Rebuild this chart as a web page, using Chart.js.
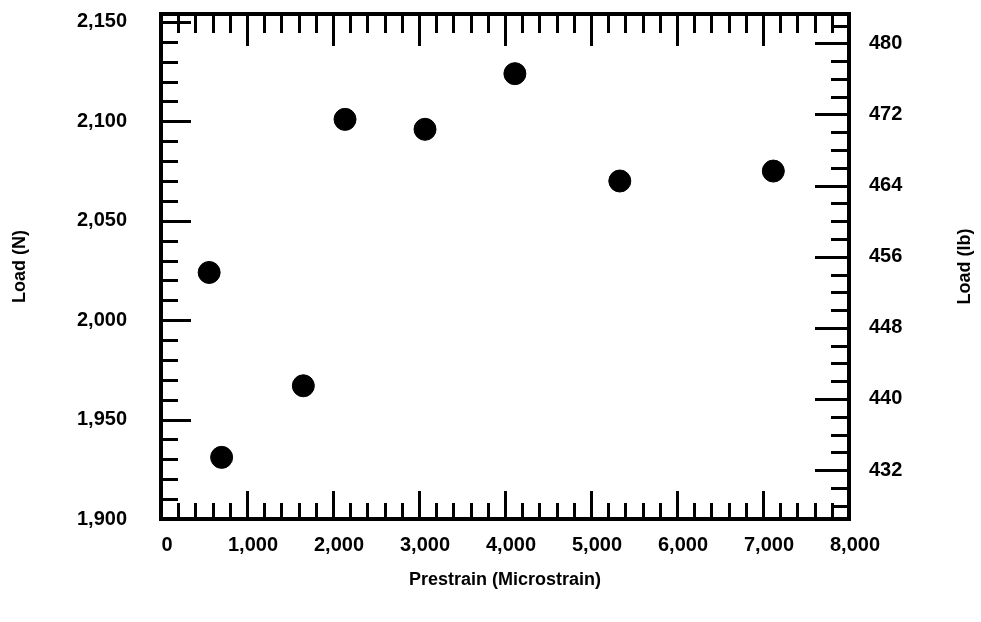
<!DOCTYPE html>
<html>
<head>
<meta charset="utf-8">
<script src="https://cdn.jsdelivr.net/npm/chart.js@4"></script>
<style>
  html, body { margin: 0; padding: 0; background: #fff; }
  #wrap { width: 981px; height: 622px; }
</style>
</head>
<body>
<div id="wrap"><canvas id="scatter" width="981" height="622"></canvas></div>
<script>
// readings
const prestrain = [560, 705, 1655, 2140, 3070, 4115, 5335, 7120];
const loadN = [2024, 1931, 1967, 2101, 2096, 2124, 2070, 2075];

const xTicks = [0, 1000, 2000, 3000, 4000, 5000, 6000, 7000, 8000];
const yTicksN = [1900, 1950, 2000, 2050, 2100, 2150];
const yTicksLb = [432, 440, 448, 456, 464, 472, 480];

// axis ranges as drawn (the lb scale in the source is not an exact conversion)
const nRange = [1900, 2154];
const lbRange = [426.5, 483.3];

const FONT = 'Liberation Sans, Arial, sans-serif';

// frame + inward tick marks (minor and major) on all four sides
const frameTicks = {
  id: 'frameTicks',
  afterDraw(chart) {
    const { ctx, chartArea: a, scales } = chart;
    const x = scales.x, y = scales.y, yr = scales.yr;
    ctx.save();
    ctx.strokeStyle = '#000';
    ctx.lineWidth = 3;
    ctx.beginPath();
    for (let v = 0; v <= 8000; v += 200) {
      const px = Math.round(x.getPixelForValue(v)) + 0.5;
      const len = v % 1000 === 0 ? 28 : 16;
      ctx.moveTo(px, a.bottom); ctx.lineTo(px, a.bottom - len);
      const lenTop = v % 1000 === 0 ? 32 : 19;
      ctx.moveTo(px, a.top); ctx.lineTo(px, a.top + lenTop);
    }
    for (let v = 1900; v <= 2150; v += 10) {
      const py = Math.round(y.getPixelForValue(v)) + 0.5;
      const len = v % 50 === 0 ? 30 : 17;
      ctx.moveTo(a.left, py); ctx.lineTo(a.left + len, py);
    }
    for (let v = 428; v <= 482; v += 2) {
      const py = Math.round(yr.getPixelForValue(v)) + 0.5;
      const len = v % 8 === 0 ? 34 : 18;
      ctx.moveTo(a.right, py); ctx.lineTo(a.right - len, py);
    }
    ctx.stroke();
    ctx.lineWidth = 4;
    ctx.strokeRect(a.left, a.top, a.right - a.left, a.bottom - a.top);
    // right-hand title reads bottom to top like the left one
    ctx.fillStyle = '#000';
    ctx.font = 'bold 18px ' + FONT;
    ctx.textAlign = 'center';
    ctx.textBaseline = 'middle';
    ctx.translate(965, (a.top + a.bottom) / 2);
    ctx.rotate(-Math.PI / 2);
    ctx.fillText('Load (lb)', 0, 0);
    ctx.restore();
  }
};

const noPad = s => { s.paddingTop = 0; s.paddingBottom = 0; };

const ctx = document.getElementById('scatter').getContext('2d');

new Chart(ctx, {
  type: 'scatter',
  data: {
    datasets: [{
      label: 'Load',
      data: prestrain.map((p, i) => ({ x: p, y: loadN[i] })),
      backgroundColor: '#000',
      borderColor: '#000',
      pointRadius: 11,
      pointHoverRadius: 11
    }]
  },
  options: {
    responsive: false,
    animation: false,
    layout: { padding: { top: 14, left: 0, right: 0, bottom: 0 } },
    plugins: {
      legend: { display: false },
      tooltip: { enabled: false }
    },
    scales: {
      x: {
        type: 'linear',
        position: 'bottom',
        min: 0,
        max: 8000,
        afterBuildTicks: s => { s.ticks = xTicks.map(v => ({ value: v })); },
        afterFit: s => { s.height = 103; s.paddingLeft = 0; s.paddingRight = 0; },
        grid: { display: false },
        border: { display: false },
        ticks: {
          color: '#000',
          font: { family: FONT, size: 20, weight: 'bold' },
          padding: 6,
          labelOffset: 6,
          maxRotation: 0,
          callback: v => v.toLocaleString('en-US')
        },
        title: {
          display: true,
          text: 'Prestrain (Microstrain)',
          color: '#000',
          font: { family: FONT, size: 18, weight: 'bold' },
          padding: { bottom: 31 }
        }
      },
      y: {
        type: 'linear',
        position: 'left',
        min: nRange[0],
        max: nRange[1],
        afterBuildTicks: s => { s.ticks = yTicksN.map(v => ({ value: v })); },
        afterFit: s => { s.width = 161; noPad(s); },
        grid: { display: false },
        border: { display: false },
        ticks: {
          color: '#000',
          font: { family: FONT, size: 20, weight: 'bold' },
          padding: 26,
          callback: v => v.toLocaleString('en-US')
        },
        title: {
          display: true,
          text: 'Load (N)',
          color: '#000',
          font: { family: FONT, size: 18, weight: 'bold' },
          padding: { top: 9 }
        }
      },
      yr: {
        type: 'linear',
        position: 'right',
        min: lbRange[0],
        max: lbRange[1],
        afterBuildTicks: s => { s.ticks = yTicksLb.map(v => ({ value: v })); },
        afterFit: s => { s.width = 132; noPad(s); },
        grid: { display: false },
        border: { display: false },
        ticks: {
          color: '#000',
          font: { family: FONT, size: 20, weight: 'bold' },
          padding: 12
        }
      }
    }
  },
  plugins: [frameTicks]
});
</script>
</body>
</html>
